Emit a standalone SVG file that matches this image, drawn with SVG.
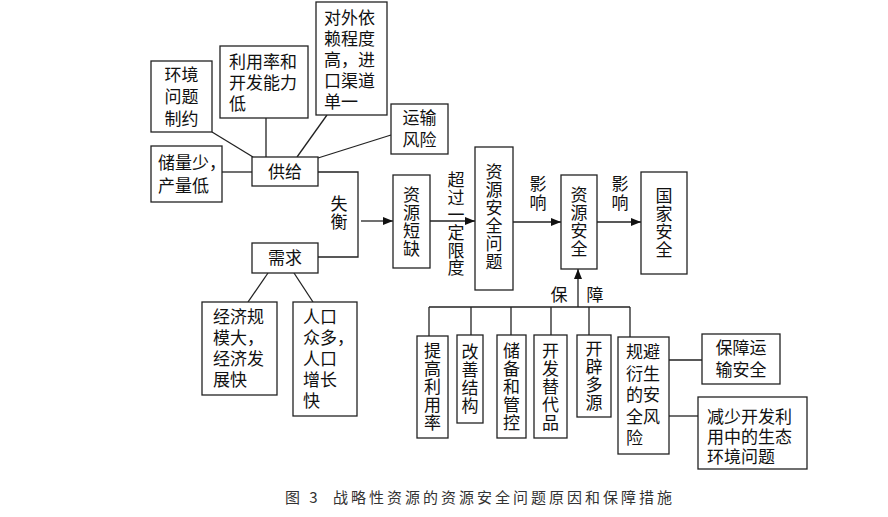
<svg xmlns="http://www.w3.org/2000/svg" width="888" height="517" viewBox="0 0 888 517">
<style>
.box{fill:#fff;stroke:#222;stroke-width:1.3}
.ln{fill:none;stroke:#222;stroke-width:1.3}
.t{font-family:"Noto Sans CJK SC","Noto Sans",sans-serif;font-size:17px;fill:#111}
.m{text-anchor:middle}
.v{writing-mode:vertical-rl;text-anchor:middle;letter-spacing:1px}
.cap{font-family:"Noto Sans CJK SC","Noto Sans",sans-serif;font-size:15px;fill:#333;letter-spacing:3px}
</style>
<defs>
<marker id="ah" viewBox="0 0 10 8" refX="10" refY="4" markerWidth="10" markerHeight="8" markerUnits="userSpaceOnUse" orient="auto">
<path d="M0,0 L10,4 L0,8 z" fill="#111"/>
</marker>
</defs>
<rect width="888" height="517" fill="#fff"/>
<g id="connectors">
<line class="ln" x1="212" y1="132" x2="253" y2="157"/>
<line class="ln" x1="266" y1="118" x2="266" y2="157"/>
<line class="ln" x1="327" y1="115" x2="297" y2="157"/>
<line class="ln" x1="391" y1="135" x2="318" y2="158"/>
<line class="ln" x1="222" y1="172" x2="252" y2="172"/>
<polyline class="ln" points="318,172 358,172 358,257 318,257"/>
<line class="ln" x1="268" y1="273" x2="248" y2="302"/>
<line class="ln" x1="294" y1="273" x2="313" y2="302"/>
<line class="ln" x1="361" y1="221" x2="393" y2="221" marker-end="url(#ah)"/>
<line class="ln" x1="430" y1="221" x2="475" y2="221" marker-end="url(#ah)"/>
<line class="ln" x1="513" y1="222" x2="561" y2="222" marker-end="url(#ah)"/>
<line class="ln" x1="597" y1="222" x2="641" y2="222" marker-end="url(#ah)"/>
<line class="ln" x1="578" y1="307" x2="578" y2="269" marker-end="url(#ah)"/>
<line class="ln" x1="429" y1="307" x2="630" y2="307"/>
<line class="ln" x1="429" y1="307" x2="429" y2="336"/>
<line class="ln" x1="471" y1="307" x2="471" y2="335"/>
<line class="ln" x1="511" y1="307" x2="511" y2="335"/>
<line class="ln" x1="551" y1="307" x2="551" y2="335"/>
<line class="ln" x1="589" y1="307" x2="589" y2="335"/>
<line class="ln" x1="630" y1="307" x2="630" y2="337"/>
<line class="ln" x1="669" y1="360" x2="702" y2="360"/>
<line class="ln" x1="669" y1="416" x2="698" y2="416"/>
<text class="t v" x="339" y="213">失衡</text>
<text class="t v" x="456" y="224" style="letter-spacing:0.6px">超过一定限度</text>
<text class="t v" x="538" y="194" style="letter-spacing:2px">影响</text>
<text class="t v" x="620" y="194" style="letter-spacing:2px">影响</text>
<text class="t m" x="559" y="301">保</text>
<text class="t m" x="595" y="301">障</text>
</g>
<g id="n-env">
<rect class="box" x="151" y="61" width="61" height="71"/>
<text class="t m"><tspan x="181.5" y="80.5">环境</tspan><tspan x="181.5" y="102.5">问题</tspan><tspan x="181.5" y="124.5">制约</tspan></text>
</g>
<g id="n-util">
<rect class="box" x="220" y="46" width="88" height="72"/>
<text class="t"><tspan x="229" y="68">利用率和</tspan><tspan x="229" y="89">开发能力</tspan><tspan x="229" y="110">低</tspan></text>
</g>
<g id="n-dep">
<rect class="box" x="316" y="2" width="71" height="113"/>
<text class="t"><tspan x="324" y="24">对外依</tspan><tspan x="324" y="45">赖程度</tspan><tspan x="324" y="66">高，进</tspan><tspan x="324" y="87">口渠道</tspan><tspan x="324" y="108">单一</tspan></text>
</g>
<g id="n-trans">
<rect class="box" x="391" y="104" width="57" height="50"/>
<text class="t m"><tspan x="419.5" y="124">运输</tspan><tspan x="419.5" y="146">风险</tspan></text>
</g>
<g id="n-reserve">
<rect class="box" x="151" y="146" width="71" height="56"/>
<text class="t"><tspan x="158" y="169">储量少，</tspan><tspan x="158" y="192">产量低</tspan></text>
</g>
<g id="n-supply">
<rect class="box" x="252" y="157" width="66" height="29"/>
<text class="t m" x="285" y="177.5">供给</text>
</g>
<g id="n-demand">
<rect class="box" x="252" y="243" width="66" height="30"/>
<text class="t m" x="285" y="264">需求</text>
</g>
<g id="n-econ">
<rect class="box" x="202" y="302" width="75" height="93"/>
<text class="t"><tspan x="213" y="323">经济规</tspan><tspan x="213" y="344">模大，</tspan><tspan x="213" y="365">经济发</tspan><tspan x="213" y="386">展快</tspan></text>
</g>
<g id="n-pop">
<rect class="box" x="293" y="302" width="64" height="114"/>
<text class="t"><tspan x="303" y="323">人口</tspan><tspan x="303" y="344">众多，</tspan><tspan x="303" y="365">人口</tspan><tspan x="303" y="386">增长</tspan><tspan x="303" y="407">快</tspan></text>
</g>
<g id="n-shortage">
<rect class="box" x="393" y="175" width="37" height="93"/>
<text class="t v" x="411.5" y="222">资源短缺</text>
</g>
<g id="n-problem">
<rect class="box" x="475" y="147" width="38" height="143"/>
<text class="t v" x="494" y="217">资源安全问题</text>
</g>
<g id="n-ressec">
<rect class="box" x="561" y="175" width="36" height="94"/>
<text class="t v" x="579" y="222.5">资源安全</text>
</g>
<g id="n-national">
<rect class="box" x="641" y="172" width="46" height="102"/>
<text class="t v" x="664" y="223.5">国家安全</text>
</g>
<g id="n-m1">
<rect class="box" x="417" y="336" width="31" height="102"/>
<text class="t v" x="432.5" y="387.5">提高利用率</text>
</g>
<g id="n-m2">
<rect class="box" x="457" y="335" width="26" height="88"/>
<text class="t v" x="470" y="379.5">改善结构</text>
</g>
<g id="n-m3">
<rect class="box" x="497" y="335" width="29" height="103"/>
<text class="t v" x="511.5" y="387.5">储备和管控</text>
</g>
<g id="n-m4">
<rect class="box" x="534" y="335" width="33" height="103"/>
<text class="t v" x="550.5" y="387.5">开发替代品</text>
</g>
<g id="n-m5">
<rect class="box" x="577" y="335" width="34" height="82"/>
<text class="t v" x="594" y="376.5">开辟多源</text>
</g>
<g id="n-m6">
<rect class="box" x="618" y="337" width="51" height="117"/>
<text class="t"><tspan x="626" y="358">规避</tspan><tspan x="626" y="379.5">衍生</tspan><tspan x="626" y="401">的安</tspan><tspan x="626" y="422.5">全风</tspan><tspan x="626" y="444">险</tspan></text>
</g>
<g id="n-s1">
<rect class="box" x="702" y="334" width="78" height="50"/>
<text class="t m"><tspan x="741" y="354">保障运</tspan><tspan x="741" y="376">输安全</tspan></text>
</g>
<g id="n-s2">
<rect class="box" x="698" y="397" width="109" height="72"/>
<text class="t"><tspan x="707" y="423">减少开发利</tspan><tspan x="707" y="443">用中的生态</tspan><tspan x="707" y="463">环境问题</tspan></text>
</g>
<g id="caption">
<text class="cap" x="285" y="503">图 3</text>
<text class="cap" x="333" y="503">战略性资源的资源安全问题原因和保障措施</text>
</g>
</svg>
